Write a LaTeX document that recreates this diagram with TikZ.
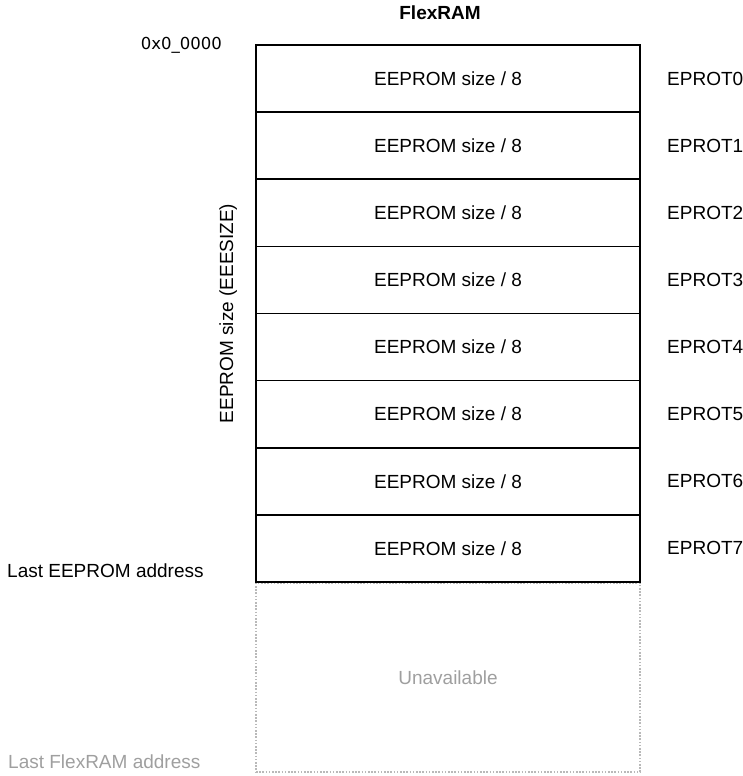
\documentclass[tikz,border=0pt]{standalone}
\usepackage{fontspec}
\setmainfont{Liberation Sans}
\newfontfamily\addrfont{DejaVu Sans}
\begin{document}
\begin{tikzpicture}[x=1pt,y=-1pt,
    cell/.style={draw, line width=1.6pt, minimum width=384pt, minimum height=67.125pt, inner sep=0pt, font=\fontsize{19}{22}\selectfont},
    unavail/.style={draw=gray!55, line width=1.6pt, dash pattern=on 1.6pt off 1.6pt, minimum width=384pt, minimum height=189pt, inner sep=0pt, text=gray!75, font=\fontsize{19}{22}\selectfont},
    lbl/.style={inner sep=0pt, font=\fontsize{19}{22}\selectfont}]
\useasboundingbox (0,0) rectangle (743,776);

\node[lbl, font=\bfseries\fontsize{19}{22}\selectfont] (title) at (440,13) {FlexRAM};
\node[lbl, anchor=east, font=\addrfont\fontsize{16.5}{20}\selectfont] (start) at (222,45) {0x0\_0000};

\node[unavail] (unav) at (448,677.5) {Unavailable};

\foreach \i in {0,...,7} {
    \pgfmathsetmacro{\yc}{45+67.125*(\i+0.5)}
    \node[cell] (row\i) at (448,\yc) {EEPROM size / 8};
    \node[lbl, anchor=west] (prot\i) at (667,\yc) {EPROT\i};
}

\node[lbl, rotate=90, anchor=base] (size) at (233,313.5) {EEPROM size (EEESIZE)};
\node[lbl, anchor=west] (lastee) at (7,571) {Last EEPROM address};
\node[lbl, anchor=west, text=gray!75] (lastflex) at (8,762) {Last FlexRAM address};
\end{tikzpicture}
\end{document}
